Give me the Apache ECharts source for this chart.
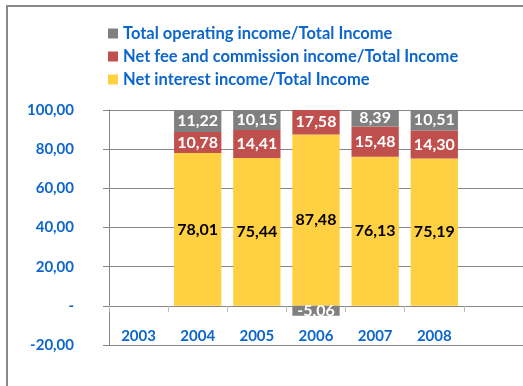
<!DOCTYPE html>
<html>
<head>
<meta charset="utf-8">
<script src="https://cdn.jsdelivr.net/npm/echarts@6/dist/echarts.min.js"></script>
<style>
html,body{margin:0;padding:0;background:#fff;}
#chart{width:523px;height:386px;}
</style>
</head>
<body>
<div id="chart"></div>
<script>
const categories = ['2003', '2004', '2005', '2006', '2007', '2008', ''];
const netInterest = [null, 78.01, 75.44, 87.48, 76.13, 75.19, null];
const netFee = [null, 10.78, 14.41, 17.58, 15.48, 14.30, null];
const totalOperating = [null, 11.22, 10.15, -5.06, 8.39, 10.51, null];
const yTicks = { min: -20, max: 100, interval: 20 };
const seriesNames = [
  'Net interest income/Total Income',
  'Net fee and commission income/Total Income',
  'Total operating income/Total Income'
];

const FONT = 'Lato';
const BLUE = '#0D66CC';
const fmt = v => (v === 0 ? '-' : v.toFixed(2).replace('.', ','));

const chart = echarts.init(document.getElementById('chart'), null, { renderer: 'canvas' });

function labelCfg(color) {
  return {
    show: true,
    position: 'inside',
    color: color,
    fontFamily: FONT,
    fontWeight: 'bold',
    fontSize: 16,
    formatter: p => fmt(p.value)
  };
}

const option = {
  backgroundColor: '#ffffff',
  animation: false,
  graphic: [{
    type: 'rect',
    shape: { x: 7, y: 6, width: 700, height: 600 },
    style: { fill: 'none', stroke: '#888888', lineWidth: 2 },
    silent: true
  }],
  legend: {
    orient: 'vertical',
    left: 103,
    top: 20,
    itemWidth: 10,
    itemHeight: 10,
    itemGap: 6,
    icon: 'rect',
    data: [seriesNames[2], seriesNames[1], seriesNames[0]],
    textStyle: {
      color: BLUE,
      fontFamily: FONT,
      fontWeight: 'bold',
      fontSize: 16.5,
      lineHeight: 16
    }
  },
  grid: { left: 109, top: 110, width: 420, height: 235, containLabel: false },
  xAxis: {
    type: 'category',
    data: categories,
    axisLine: { onZero: true, lineStyle: { color: '#868686', width: 1 } },
    axisTick: { show: true, length: 6, lineStyle: { color: '#BBBBBB', width: 1 } },
    axisLabel: {
      margin: -16,
      color: BLUE,
      fontFamily: FONT,
      fontWeight: 'bold',
      fontSize: 15
    },
    splitLine: { show: false }
  },
  yAxis: {
    type: 'value',
    min: yTicks.min,
    max: yTicks.max,
    interval: yTicks.interval,
    axisLine: { show: true, lineStyle: { color: '#868686', width: 1 } },
    axisTick: { show: true, length: 6, lineStyle: { color: '#868686' } },
    axisLabel: {
      margin: 35,
      color: BLUE,
      fontFamily: FONT,
      fontWeight: 'bold',
      fontSize: 15,
      formatter: fmt
    },
    splitLine: { show: true, lineStyle: { color: '#868686', width: 1 } }
  },
  series: [
    {
      name: seriesNames[0],
      type: 'bar',
      stack: 'total',
      barCategoryGap: '20%',
      clip: true,
      data: netInterest,
      itemStyle: { color: '#FFD042' },
      label: labelCfg('#000000')
    },
    {
      name: seriesNames[1],
      type: 'bar',
      stack: 'total',
      barCategoryGap: '20%',
      clip: true,
      data: netFee,
      itemStyle: { color: '#C0504D' },
      label: labelCfg('#ffffff')
    },
    {
      name: seriesNames[2],
      type: 'bar',
      stack: 'total',
      barCategoryGap: '20%',
      clip: true,
      data: totalOperating,
      itemStyle: { color: '#808080' },
      label: labelCfg('#ffffff')
    }
  ]
};
chart.setOption(option);
</script>
</body>
</html>
